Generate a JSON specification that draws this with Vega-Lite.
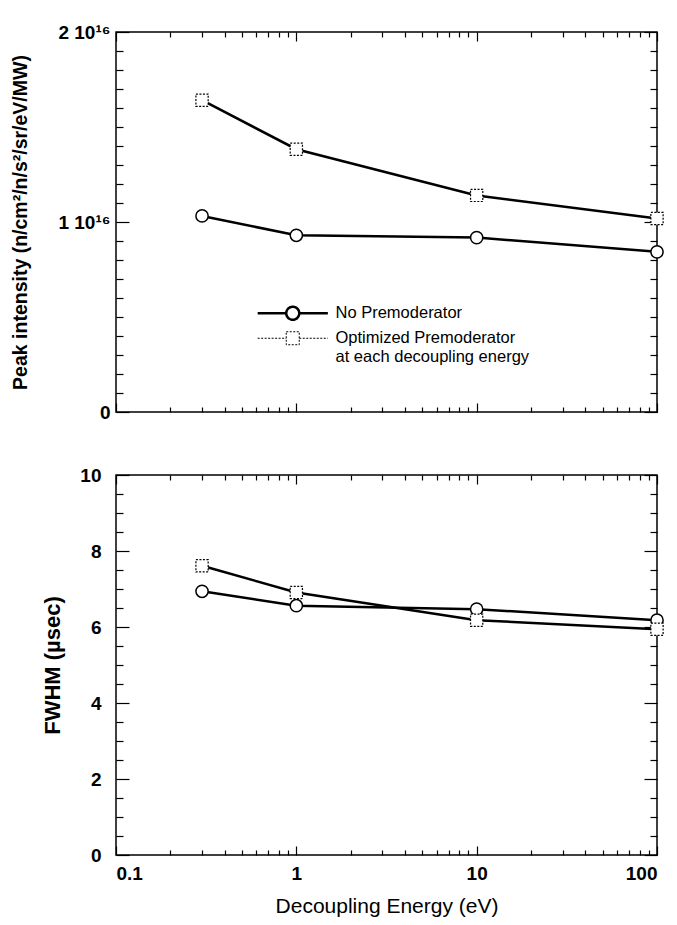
{
  "$schema": "https://vega.github.io/schema/vega-lite/v6.json",
  "background": "white",
  "padding": {"left": 10, "top": 22, "right": 5, "bottom": 8},
  "autosize": {"type": "pad"},
  "datasets": {
    "pts": [
      {"series": "No Premoderator", "E": 0.3, "peak": 1.032e16, "fwhm": 6.94},
      {"series": "No Premoderator", "E": 1, "peak": 0.930e16, "fwhm": 6.56},
      {"series": "No Premoderator", "E": 10, "peak": 0.918e16, "fwhm": 6.47},
      {"series": "No Premoderator", "E": 100, "peak": 0.843e16, "fwhm": 6.18},
      {"series": "Optimized Premoderator", "E": 0.3, "peak": 1.641e16, "fwhm": 7.61},
      {"series": "Optimized Premoderator", "E": 1, "peak": 1.383e16, "fwhm": 6.91},
      {"series": "Optimized Premoderator", "E": 10, "peak": 1.140e16, "fwhm": 6.18},
      {"series": "Optimized Premoderator", "E": 100, "peak": 1.018e16, "fwhm": 5.94}
    ]
  },
  "data": {"name": "pts"},
  "spacing": 63,
  "bounds": "flush",
  "vconcat": [
    {
      "width": 541,
      "height": 380,
      "layer": [
        {
          "transform": [{"filter": "datum.series == 'No Premoderator'"}],
          "mark": {"type": "line", "color": "black", "strokeWidth": 2.5},
          "encoding": {
            "x": {"field": "E", "type": "quantitative", "scale": {"type": "log", "domain": [0.1, 100]},
              "axis": {"orient": "bottom", "offset": 0, "title": null, "labels": false, "values": [0.1, 1, 10, 100], "tickSize": -9}},
            "y": {"field": "peak", "type": "quantitative", "scale": {"domain": [0, 2e16]},
              "axis": {"orient": "left", "offset": 0, "title": "Peak intensity (n/cm²/n/s²/sr/eV/MW)", "titlePadding": 27, "titleFontSize": 19.5,
                "values": [0, 1e16, 2e16],
                "labelExpr": "datum.value == 0 ? '0' : datum.value == 1e16 ? '1 10¹⁶' : '2 10¹⁶'",
                "labelPadding": 19, "tickSize": -13}}
          }
        },
        {
          "transform": [{"filter": "datum.series == 'Optimized Premoderator'"}],
          "mark": {"type": "line", "color": "black", "strokeWidth": 2.5},
          "encoding": {
            "x": {"field": "E", "type": "quantitative",
              "axis": {"orient": "bottom", "offset": 0, "title": null, "labels": false,
                "values": [0.2,0.3,0.4,0.5,0.6,0.7,0.8,0.9,2,3,4,5,6,7,8,9,20,30,40,50,60,70,80,90], "tickSize": -5}},
            "y": {"field": "peak", "type": "quantitative",
              "axis": {"orient": "left", "offset": 0, "title": null, "labels": false,
                "values": [1e15,2e15,3e15,4e15,5e15,6e15,7e15,8e15,9e15,1.1e16,1.2e16,1.3e16,1.4e16,1.5e16,1.6e16,1.7e16,1.8e16,1.9e16], "tickSize": -7}}
          }
        },
        {
          "transform": [{"filter": "datum.series == 'No Premoderator'"}],
          "mark": {"type": "point", "shape": "circle", "filled": true, "fill": "white", "stroke": "black", "strokeWidth": 1.5, "size": 150, "opacity": 1},
          "encoding": {
            "x": {"field": "E", "type": "quantitative",
              "axis": {"orient": "top", "offset": 0, "title": null, "labels": false, "values": [0.1, 1, 10, 100], "tickSize": -9}},
            "y": {"field": "peak", "type": "quantitative",
              "axis": {"orient": "right", "offset": 0, "title": null, "labels": false, "values": [0, 1e16, 2e16], "tickSize": -13}}
          }
        },
        {
          "transform": [{"filter": "datum.series == 'Optimized Premoderator'"}],
          "mark": {"type": "point", "shape": "square", "filled": true, "fill": "white", "stroke": "black", "strokeWidth": 1.2, "strokeDash": [2, 1.5], "size": 150, "opacity": 1},
          "encoding": {
            "x": {"field": "E", "type": "quantitative",
              "axis": {"orient": "top", "offset": 0, "title": null, "labels": false,
                "values": [0.2,0.3,0.4,0.5,0.6,0.7,0.8,0.9,2,3,4,5,6,7,8,9,20,30,40,50,60,70,80,90], "tickSize": -5}},
            "y": {"field": "peak", "type": "quantitative",
              "axis": {"orient": "right", "offset": 0, "title": null, "labels": false,
                "values": [1e15,2e15,3e15,4e15,5e15,6e15,7e15,8e15,9e15,1.1e16,1.2e16,1.3e16,1.4e16,1.5e16,1.6e16,1.7e16,1.8e16,1.9e16], "tickSize": -7}}
          }
        },
        {
          "transform": [{"filter": "datum.E < 0"}],
          "mark": {"type": "point", "filled": true, "fill": "white", "stroke": "black", "size": 169, "opacity": 1},
          "encoding": {
            "shape": {"field": "series", "type": "nominal",
              "scale": {"domain": ["No Premoderator", "Optimized Premoderator"],
                "range": ["M-5.4,0H-1M1,0H5.4M-1,0A1,1,0,1,0,1,0A1,1,0,1,0,-1,0Z", "M-5.4,0H-1M1,0H5.4M-1,-1H1V1H-1Z"]},
              "legend": {"orient": "none", "legendX": 168.5, "legendY": 273, "title": null, "padding": 0, "symbolSize": 169,
                "labelOffset": 34.5, "labelFontSize": 16.5, "labelFontWeight": "normal", "rowPadding": 4, "labelLimit": 400,
                "labelExpr": "datum.label == 'Optimized Premoderator' ? ['Optimized Premoderator', '\u00a0\u00a0\u00a0at each decoupling energy'] : datum.label"}},
            "strokeDash": {"field": "series", "type": "nominal",
              "scale": {"domain": ["No Premoderator", "Optimized Premoderator"], "range": [[1, 0], [2, 1.5]]},
              "legend": {"orient": "none", "legendX": 168.5, "legendY": 273, "title": null, "padding": 0, "symbolSize": 169,
                "labelOffset": 34.5, "labelFontSize": 16.5, "labelFontWeight": "normal", "rowPadding": 4, "labelLimit": 400,
                "labelExpr": "datum.label == 'Optimized Premoderator' ? ['Optimized Premoderator', '\u00a0\u00a0\u00a0at each decoupling energy'] : datum.label"}},
            "strokeWidth": {"field": "series", "type": "nominal",
              "scale": {"domain": ["No Premoderator", "Optimized Premoderator"], "range": [2.5, 1]},
              "legend": {"orient": "none", "legendX": 168.5, "legendY": 273, "title": null, "padding": 0, "symbolSize": 169,
                "labelOffset": 34.5, "labelFontSize": 16.5, "labelFontWeight": "normal", "rowPadding": 4, "labelLimit": 400,
                "labelExpr": "datum.label == 'Optimized Premoderator' ? ['Optimized Premoderator', '\u00a0\u00a0\u00a0at each decoupling energy'] : datum.label"}}
          }
        }
      ],
      "resolve": {"axis": {"x": "independent", "y": "independent"}}
    },
    {
      "width": 541,
      "height": 380,
      "layer": [
        {
          "transform": [{"filter": "datum.series == 'No Premoderator'"}],
          "mark": {"type": "line", "color": "black", "strokeWidth": 2.5},
          "encoding": {
            "x": {"field": "E", "type": "quantitative", "scale": {"type": "log", "domain": [0.1, 100]},
              "axis": {"orient": "bottom", "offset": 0, "title": "Decoupling Energy (eV)", "titlePadding": 12, "titleFontSize": 21, "format": "~g",
                "values": [0.1, 1, 10, 100], "labelPadding": 18, "tickSize": -9}},
            "y": {"field": "fwhm", "type": "quantitative", "scale": {"domain": [0, 10]},
              "axis": {"orient": "left", "offset": 0, "title": "FWHM (µsec)", "titlePadding": 15, "titleFontSize": 22, "format": "d",
                "values": [0, 2, 4, 6, 8, 10], "labelPadding": 28, "tickSize": -13}}
          }
        },
        {
          "transform": [{"filter": "datum.series == 'Optimized Premoderator'"}],
          "mark": {"type": "line", "color": "black", "strokeWidth": 2.5},
          "encoding": {
            "x": {"field": "E", "type": "quantitative",
              "axis": {"orient": "bottom", "offset": 0, "title": null, "labels": false,
                "values": [0.2,0.3,0.4,0.5,0.6,0.7,0.8,0.9,2,3,4,5,6,7,8,9,20,30,40,50,60,70,80,90], "tickSize": -5}},
            "y": {"field": "fwhm", "type": "quantitative",
              "axis": {"orient": "left", "offset": 0, "title": null, "labels": false,
                "values": [0.5,1,1.5,2.5,3,3.5,4.5,5,5.5,6.5,7,7.5,8.5,9,9.5], "tickSize": -7}}
          }
        },
        {
          "transform": [{"filter": "datum.series == 'No Premoderator'"}],
          "mark": {"type": "point", "shape": "circle", "filled": true, "fill": "white", "stroke": "black", "strokeWidth": 1.5, "size": 150, "opacity": 1},
          "encoding": {
            "x": {"field": "E", "type": "quantitative",
              "axis": {"orient": "top", "offset": 0, "title": null, "labels": false, "values": [0.1, 1, 10, 100], "tickSize": -9}},
            "y": {"field": "fwhm", "type": "quantitative",
              "axis": {"orient": "right", "offset": 0, "title": null, "labels": false, "values": [0, 2, 4, 6, 8, 10], "tickSize": -13}}
          }
        },
        {
          "transform": [{"filter": "datum.series == 'Optimized Premoderator'"}],
          "mark": {"type": "point", "shape": "square", "filled": true, "fill": "white", "stroke": "black", "strokeWidth": 1.2, "strokeDash": [2, 1.5], "size": 150, "opacity": 1},
          "encoding": {
            "x": {"field": "E", "type": "quantitative",
              "axis": {"orient": "top", "offset": 0, "title": null, "labels": false,
                "values": [0.2,0.3,0.4,0.5,0.6,0.7,0.8,0.9,2,3,4,5,6,7,8,9,20,30,40,50,60,70,80,90], "tickSize": -5}},
            "y": {"field": "fwhm", "type": "quantitative",
              "axis": {"orient": "right", "offset": 0, "title": null, "labels": false,
                "values": [0.5,1,1.5,2.5,3,3.5,4.5,5,5.5,6.5,7,7.5,8.5,9,9.5], "tickSize": -7}}
          }
        }
      ],
      "resolve": {"axis": {"x": "independent", "y": "independent"}}
    }
  ],
  "config": {
    "font": "Liberation Sans",
    "view": {"stroke": "black", "strokeWidth": 1.5},
    "axis": {"domain": false, "grid": false, "tickColor": "black", "tickWidth": 1.2, "labelColor": "black", "titleColor": "black",
      "labelFontSize": 19, "labelFontWeight": "bold", "titleFontSize": 18, "titleFontWeight": "bold", "labelFont": "Liberation Sans", "titleFont": "Liberation Sans"},
    "axisBottom": {"titleFontWeight": "normal"},
    "legend": {"labelColor": "black", "labelFont": "Liberation Sans"},
    "style": {"guide-label": {"lineHeight": 19}}
  }
}
